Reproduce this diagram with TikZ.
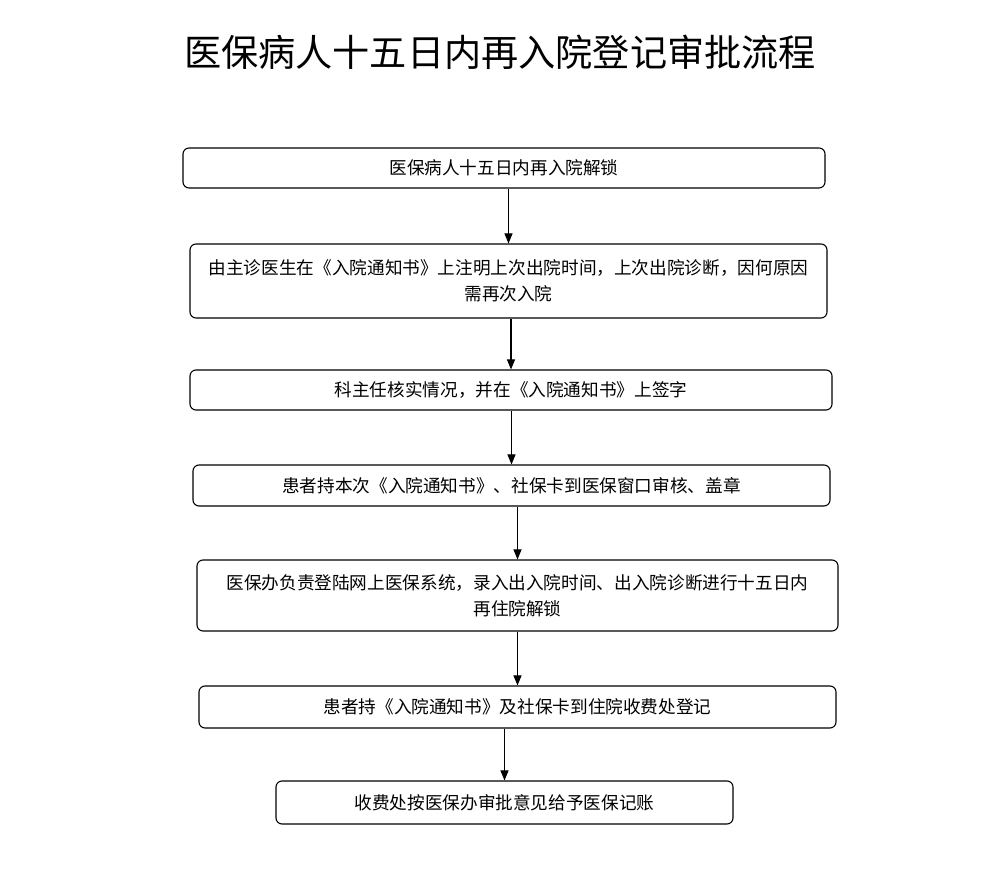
\documentclass[tikz,border=0pt]{standalone}
\usepackage{fontspec}
\setmainfont{Noto Sans CJK SC}
\newfontfamily\cjk{Noto Sans CJK SC}
\usetikzlibrary{arrows.meta}
\tikzset{
  stepbox/.style={draw=black, line width=1.1pt, rounded corners=6bp, inner sep=0pt,
    align=center, font=\cjk\fontsize{17.7}{26}\selectfont},
  arr/.style={draw=black, line width=1.1pt, -{Triangle[length=10bp,width=8bp]}}
}
\begin{document}
\begin{tikzpicture}[x=1bp,y=1bp]
\useasboundingbox[fill=white] (0,0) rectangle (1000,879);
\node[font=\cjk\fontsize{37.3}{42}\selectfont] (title) at (500,827) {医保病人十五日内再入院登记审批流程};
\node[stepbox, minimum width=642bp, minimum height=40bp] (b1) at (504,711) {医保病人十五日内再入院解锁};
\node[stepbox, minimum width=637bp, minimum height=74bp] (b2) at (508.5,598) {由主诊医生在《入院通知书》上注明上次出院时间，上次出院诊断，因何原因\\需再次入院};
\node[stepbox, minimum width=642bp, minimum height=40bp] (b3) at (511,489) {科主任核实情况，并在《入院通知书》上签字};
\node[stepbox, minimum width=637bp, minimum height=41bp] (b4) at (511.5,393.5) {患者持本次《入院通知书》、社保卡到医保窗口审核、盖章};
\node[stepbox, minimum width=641bp, minimum height=71bp] (b5) at (517.5,283.5) {医保办负责登陆网上医保系统，录入出入院时间、出入院诊断进行十五日内\\再住院解锁};
\node[stepbox, minimum width=637bp, minimum height=42bp] (b6) at (517.5,172) {患者持《入院通知书》及社保卡到住院收费处登记};
\node[stepbox, minimum width=457bp, minimum height=43bp] (b7) at (504.5,76.5) {收费处按医保办审批意见给予医保记账};
\draw[arr] (b1.south -| b2.north) -- (b2.north);
\draw[arr] (b2.south -| b3.north) -- (b3.north);
\draw[arr] (b3.south -| b4.north) -- (b4.north);
\draw[arr] (b4.south -| b5.north) -- (b5.north);
\draw[arr] (b5.south -| b6.north) -- (b6.north);
\draw[arr] (b6.south -| b7.north) -- (b7.north);
\end{tikzpicture}
\end{document}
